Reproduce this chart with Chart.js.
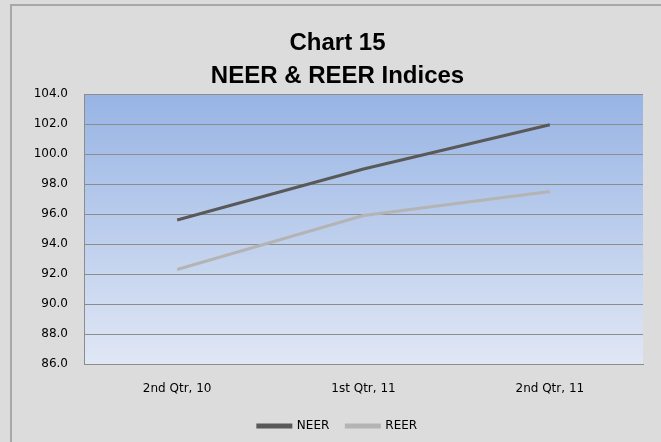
<!DOCTYPE html>
<html>
<head>
<meta charset="utf-8">
<script src="https://cdn.jsdelivr.net/npm/chart.js@4.4.0/dist/chart.umd.min.js"></script>
<style>
  html, body { margin: 0; padding: 0; background: #dcdcdc; }
  #wrap { width: 661px; height: 442px; }
</style>
</head>
<body>
<div id="wrap"><canvas id="myChart" width="661" height="442"></canvas></div>
<script>
// chart values
const quarters = ['2nd Qtr, 10', '1st Qtr, 11', '2nd Qtr, 11'];
const neer = [95.6, 99.0, 101.95];
const reer = [92.3, 95.9, 97.5];
const titleLines = ['Chart 15', 'NEER & REER Indices'];

// grey page + frame + gradient behind the plot
const backdrop = {
  id: 'backdrop',
  beforeDraw(chart) {
    const ctx = chart.ctx;
    const a = chart.chartArea;
    ctx.save();
    ctx.fillStyle = '#dcdcdc';
    ctx.fillRect(0, 0, chart.width, chart.height);
    ctx.strokeStyle = '#a8a8a8';
    ctx.lineWidth = 2;
    ctx.beginPath();
    ctx.moveTo(11, chart.height);
    ctx.lineTo(11, 5);
    ctx.lineTo(chart.width, 5);
    ctx.stroke();
    const g = ctx.createLinearGradient(0, a.top, 0, a.bottom);
    g.addColorStop(0, '#97b4e4');
    g.addColorStop(1, '#e0e7f5');
    ctx.fillStyle = g;
    ctx.fillRect(a.left, a.top, a.right - a.left, a.bottom - a.top);
    ctx.restore();
  }
};

const ctx = document.getElementById('myChart').getContext('2d');
const myChart = new Chart(ctx, {
  type: 'line',
  data: {
    labels: quarters,
    datasets: [{
      label: 'NEER',
      data: neer,
      borderColor: '#595959',
      backgroundColor: '#595959',
      borderWidth: 3,
      pointRadius: 0,
      tension: 0
    }, {
      label: 'REER',
      data: reer,
      borderColor: '#b4b4b4',
      backgroundColor: '#b4b4b4',
      borderWidth: 3,
      pointRadius: 0,
      tension: 0
    }]
  },
  options: {
    responsive: false,
    animation: false,
    layout: { padding: { left: 32, right: 18, top: 0, bottom: 0 } },
    plugins: {
      title: {
        display: true,
        text: titleLines,
        color: '#000',
        font: { family: 'Liberation Sans', size: 24, weight: 'bold', lineHeight: 1.375 },
        padding: { top: 27, bottom: 1 }
      },
      legend: {
        position: 'bottom',
        labels: {
          boxWidth: 33,
          boxHeight: 2,
          padding: 17,
          color: '#000',
          font: { family: 'DejaVu Sans', size: 12 }
        }
      },
      tooltip: { enabled: false }
    },
    scales: {
      x: {
        offset: true,
        grid: { display: false, drawTicks: false },
        border: { display: true, color: '#8c8c8c', width: 1 },
        ticks: { padding: 18, color: '#000', font: { family: 'DejaVu Sans', size: 12 } },
        afterFit(scale) { scale.height = 39; }
      },
      y: {
        min: 86,
        max: 104,
        grid: { color: '#8c8c8c', drawTicks: false },
        border: { display: true, color: '#8c8c8c', width: 1 },
        ticks: {
          stepSize: 2,
          padding: 16,
          color: '#000',
          font: { family: 'DejaVu Sans', size: 12 },
          callback: v => v.toFixed(1)
        },
        afterFit(scale) { scale.width = 52; }
      }
    }
  },
  plugins: [backdrop]
});
</script>
</body>
</html>
